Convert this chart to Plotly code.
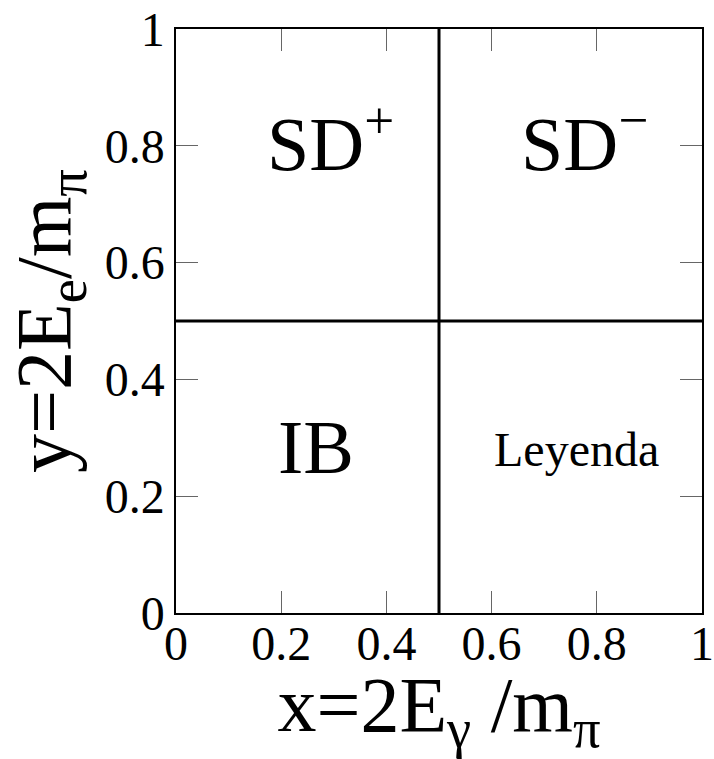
import plotly.graph_objects as go

# Kinematic boundaries splitting the Dalitz plane
x_split = 0.5
y_split = 0.5

# Region labels and where they sit in (x, y)
region_labels = ["SD<sup>+</sup>", "SD<sup>−</sup>", "IB", "Leyenda"]
region_x = [0.293, 0.776, 0.266, 0.762]
region_y = [0.812, 0.812, 0.285, 0.28]
region_sizes = [76, 76, 76, 48]

tick_vals = [0, 0.2, 0.4, 0.6, 0.8, 1]
tick_text = ["0", "0.2", "0.4", "0.6", "0.8", "1"]

FONT = "Liberation Serif"

fig = go.Figure()

# vertical divider x = 0.5
fig.add_trace(go.Scatter(x=[x_split, x_split], y=[0, 1], mode="lines",
                         line=dict(color="black", width=3), showlegend=False,
                         hoverinfo="skip"))
# horizontal divider y = 0.5
fig.add_trace(go.Scatter(x=[0, 1], y=[y_split, y_split], mode="lines",
                         line=dict(color="black", width=3), showlegend=False,
                         hoverinfo="skip"))

for lab, xx, yy, sz in zip(region_labels, region_x, region_y, region_sizes):
    fig.add_annotation(x=xx, y=yy, text=lab, showarrow=False,
                       font=dict(family=FONT, size=sz, color="black"))

axis_common = dict(
    range=[0, 1], tickvals=tick_vals, ticktext=tick_text,
    ticks="inside", ticklen=22, tickwidth=1, tickcolor="#666666",
    showline=True, linecolor="black", linewidth=1.5, mirror="ticks",
    showgrid=False, zeroline=False, automargin=False,
    ticklabeloverflow="allow",
    tickfont=dict(family=FONT, size=48, color="black"),
)

fig.update_layout(
    width=714, height=759,
    margin=dict(l=176, r=12, t=29, b=146),
    paper_bgcolor="white", plot_bgcolor="white",
    xaxis=dict(**axis_common, ticklabelstandoff=-12,
               title=dict(text="x=2E<sub>γ</sub> /m<sub>π</sub>",
                          font=dict(family=FONT, size=78, color="black"))),
    yaxis=dict(**axis_common,
               title=dict(text="y=2E<sub>e</sub>/m<sub>π</sub>",
                          font=dict(family=FONT, size=78, color="black"))),
)

fig.write_html("out.html")
